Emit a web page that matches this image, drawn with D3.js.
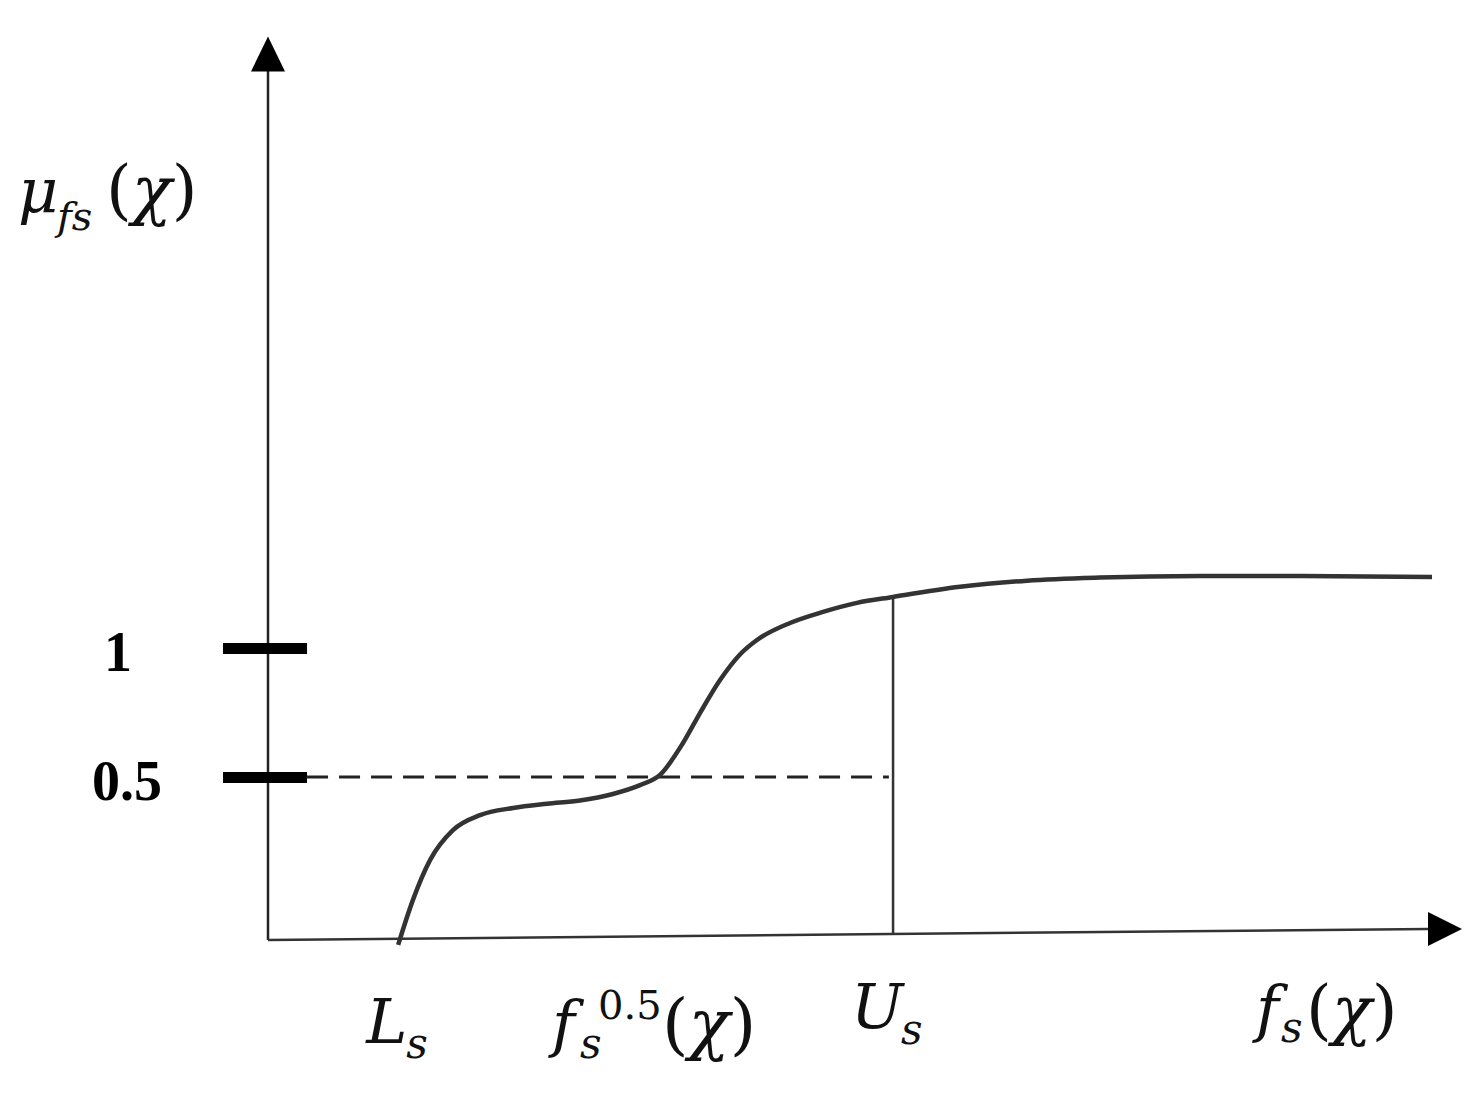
<!DOCTYPE html>
<html lang="en">
<head>
    <meta charset="UTF-8">
    <title>Membership function</title>
    <script src="https://d3js.org/d3.v7.min.js"></script>
    <style>
        body { margin: 0; background: #fff; }
        svg { display: block; background: #fff; }
        .math { font-family: "DejaVu Serif", serif; font-style: italic; fill: #111; }
        .up { font-style: normal; }
        .tick-label { font-family: "Liberation Serif", serif; font-weight: bold; fill: #000; }
    </style>
</head>
<body>
<script>
    // x in abstract units along f_s(x), y in membership units (diagram not to scale)
    const curveX = [1.09, 1.214, 1.357, 1.549, 1.776, 2.052, 2.337, 2.613, 2.889, 3.116, 3.283, 3.476, 3.618, 3.786, 3.953, 4.095, 4.372, 4.648, 4.933, 5.235, 5.796, 6.357, 6.968, 7.806, 8.643, 9.749];
    const curveY = [-0.015, 0.123, 0.245, 0.337, 0.383, 0.405, 0.418, 0.428, 0.448, 0.475, 0.508, 0.632, 0.748, 0.876, 0.975, 1.031, 1.097, 1.140, 1.175, 1.198, 1.237, 1.261, 1.273, 1.279, 1.279, 1.275];
    const tickValues = [1, 0.5];
    const tickLabels = ["1", "0.5"];
    const Ls = 1.09, fHalf = 3.283, Us = 5.235;
    const UsTop = 1.198;

    const W = 1468, H = 1110;
    const svg = d3.select("body").append("svg").attr("width", W).attr("height", H);

    const xScale = d3.scaleLinear().domain([0, 10]).range([268, 1462]);
    const yScale = d3.scaleLinear().domain([0, 0.5, 1]).range([940, 777, 648]);

    // axes lines
    svg.append("line")
        .attr("x1", xScale(0)).attr("y1", yScale(0))
        .attr("x2", xScale(0)).attr("y2", yScale(3.27))
        .attr("stroke", "#222").attr("stroke-width", 2.5);
    svg.append("line")
        .attr("x1", xScale(0)).attr("y1", yScale(0))
        .attr("x2", xScale(9.72)).attr("y2", yScale(0.034))
        .attr("stroke", "#333").attr("stroke-width", 2.5);

    // arrow heads
    const topX = xScale(0), topY = yScale(3.37);
    svg.append("path")
        .attr("d", `M${topX},${topY} L${topX + 17},${topY + 35} L${topX - 17},${topY + 35} Z`)
        .attr("fill", "#000");
    const rX = xScale(10), rY = yScale(0.034);
    svg.append("path")
        .attr("d", `M${rX},${rY} L${rX - 34},${rY - 17} L${rX - 34},${rY + 17} Z`)
        .attr("fill", "#000");

    // tick bars via axis
    const yAxis = d3.axisLeft(yScale)
        .tickValues(tickValues)
        .tickSize(xScale(0.327) - xScale(-0.377))
        .tickFormat("");
    const gy = svg.append("g")
        .attr("transform", `translate(${xScale(0.327)},0)`)
        .call(yAxis);
    gy.select(".domain").remove();
    gy.selectAll(".tick line").attr("stroke", "#000").attr("stroke-width", 11);

    // tick labels
    svg.selectAll(".tick-label")
        .data(tickValues)
        .enter().append("text")
        .attr("class", "tick-label")
        .attr("x", (d, i) => i === 0 ? 104 : 92)
        .attr("y", d => yScale(d) + 23)
        .attr("font-size", 56)
        .text((d, i) => tickLabels[i]);

    // dashed 0.5 line
    svg.append("line")
        .attr("x1", xScale(0.327)).attr("y1", yScale(0.5))
        .attr("x2", xScale(5.2)).attr("y2", yScale(0.5))
        .attr("stroke", "#222").attr("stroke-width", 3)
        .attr("stroke-dasharray", "21,11");

    // U_s vertical
    svg.append("line")
        .attr("x1", xScale(Us)).attr("y1", yScale(UsTop))
        .attr("x2", xScale(Us)).attr("y2", yScale(0.018))
        .attr("stroke", "#333").attr("stroke-width", 2.5);

    // membership curve
    const pts = curveX.map((x, i) => [x, curveY[i]]);
    const line = d3.line()
        .x(d => xScale(d[0]))
        .y(d => yScale(d[1]))
        .curve(d3.curveMonotoneX);
    svg.append("path")
        .datum(pts)
        .attr("d", line)
        .attr("fill", "none")
        .attr("stroke", "#333")
        .attr("stroke-width", 4.5);

    // math labels
    function t(x, y, size, str, upright) {
        svg.append("text").attr("class", upright ? "math up" : "math")
            .attr("x", x).attr("y", y).attr("font-size", size).text(str);
    }
    function chi(x, y, size) {
        const txt = svg.append("text").attr("class", "math")
            .attr("x", x).attr("y", y).attr("font-size", size);
        txt.append("tspan").attr("class", "up").text("(");
        txt.append("tspan").text("χ");
        txt.append("tspan").attr("class", "up").text(")");
    }
    // y label
    t(18, 212, 62, "μ");
    t(57, 230, 40, "fs");
    chi(106, 212, 66);
    // L_s
    t(xScale(Ls) - 32, 1043, 62, "L");
    t(xScale(Ls) + 8, 1058, 42, "s");
    // f_s^0.5(x)
    t(xScale(fHalf) - 108, 1045, 62, "f");
    t(xScale(fHalf) - 80, 1058, 42, "s");
    t(xScale(fHalf) - 62, 1019, 40, "0.5", true);
    chi(xScale(fHalf) + 2, 1047, 68);
    // U_s
    t(xScale(Us) - 42, 1028, 62, "U");
    t(xScale(Us) + 8, 1044, 42, "s");
    // f_s(x)
    t(1256, 1030, 62, "f");
    t(1281, 1042, 42, "s");
    chi(1306, 1032, 66);
</script>
</body>
</html>
